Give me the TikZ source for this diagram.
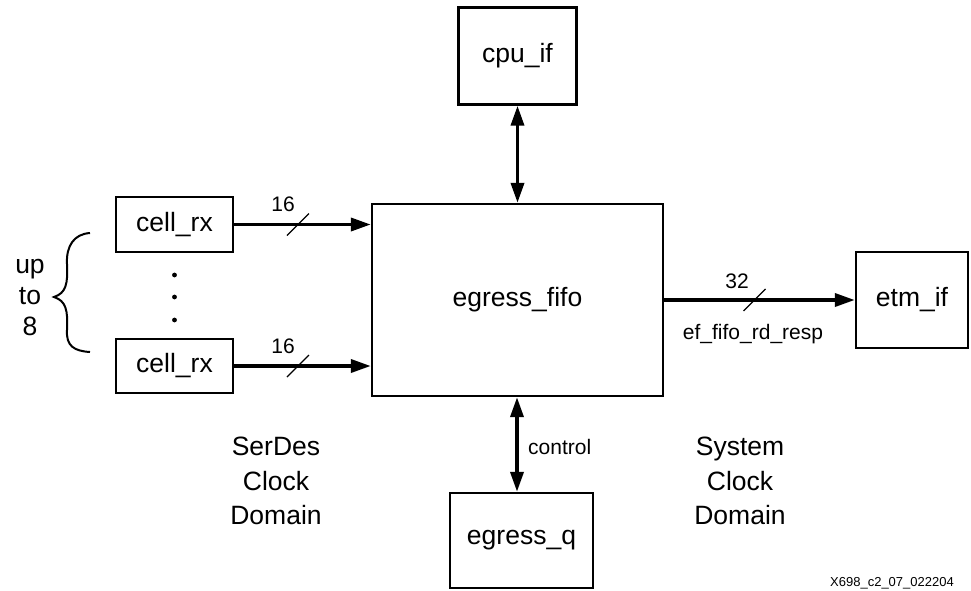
\documentclass[tikz,border=0pt]{standalone}
\usepackage{fontspec}
\setmainfont{Liberation Sans}
\usetikzlibrary{arrows.meta,calc}
\begin{document}
\begin{tikzpicture}[x=1pt,y=-1pt,
  block/.style={draw,line width=2.4pt,inner sep=0pt,font=\fontsize{26.5}{28}\selectfont},
  bus/.style={line width=3.6pt,-{Triangle[length=20pt,width=13pt]}},
  bibus/.style={line width=3.6pt,{Triangle[length=20pt,width=13pt]}-{Triangle[length=20pt,width=13pt]}},
  slash/.style={line width=1.1pt},
  small/.style={font=\fontsize{21}{23}\selectfont,inner sep=0pt},
  big/.style={font=\fontsize{26.5}{31}\selectfont,inner sep=0pt,align=center}]
\useasboundingbox (0,0) rectangle (971,590);

% blocks
\node[block,minimum width=118pt,minimum height=97pt] (cpu) at (517.5,56) {cpu\_if};
\node[block,minimum width=291pt,minimum height=192pt] (fifo) at (517.5,300) {egress\_fifo};
\node[block,minimum width=117pt,minimum height=55pt] (rxa) at (174.5,224.5) {cell\_rx};
\node[block,minimum width=117pt,minimum height=54pt] (rxb) at (174.5,366) {cell\_rx};
\node[block,minimum width=112pt,minimum height=96pt] (etm) at (912,300) {etm\_if};
\node[block,minimum width=143pt,minimum height=95pt] (egq) at (521.5,540.5) {egress\_q};

% buses
\draw[bus] (rxa.east) -- (rxa.east -| fifo.west);
\draw[bus] (rxb.east) -- (rxb.east -| fifo.west);
\draw[bus] (fifo.east) -- (etm.west);
\draw[bibus] (cpu.south) -- (fifo.north);
\coordinate (qx) at (517,0);
\draw[bibus] (fifo.south -| qx) -- (egq.north -| qx);

% bus width marks
\coordinate (sa) at (298,224.5);
\coordinate (sb) at (298,366);
\coordinate (sc) at (754.5,300);
\foreach \c in {sa,sb,sc}
  \draw[slash] ($(\c)+(-11,11)$) -- ($(\c)+(11,-11)$);
\node[small] (wa) at (283,204) {16};
\node[small] (wb) at (283,346) {16};
\node[small] (wc) at (737,281) {32};
\node[small] (sig) at (753,334) {ef\_fifo\_rd\_resp};
\node[small,anchor=west] (ctl) at (528,447) {control};

% continuation dots
\foreach \y/\n in {275/da,297/db,320/dc}
  \fill (174.5,\y) circle (2.4pt) coordinate (\n);

% brace and count
\draw[line width=2pt] (90,233) .. controls (74,234) and (66,246) .. (67,264)
  .. controls (68,284) and (66,293) .. (54,297)
  .. controls (66,301) and (68,310) .. (67,330)
  .. controls (66,346) and (74,351) .. (90,352);
\node[big] (cnt) at (30,297) {up\\to\\8};

% clock domains
\node[big,font=\fontsize{26.5}{34.5}\selectfont] (serdes) at (276,481) {SerDes\\Clock\\Domain};
\node[big,font=\fontsize{26.5}{34.5}\selectfont] (sys) at (740,481) {System\\Clock\\Domain};

\node[font=\fontsize{13}{15}\selectfont,inner sep=0pt] (fig) at (892,583) {X698\_c2\_07\_022204};
\end{tikzpicture}
\end{document}
